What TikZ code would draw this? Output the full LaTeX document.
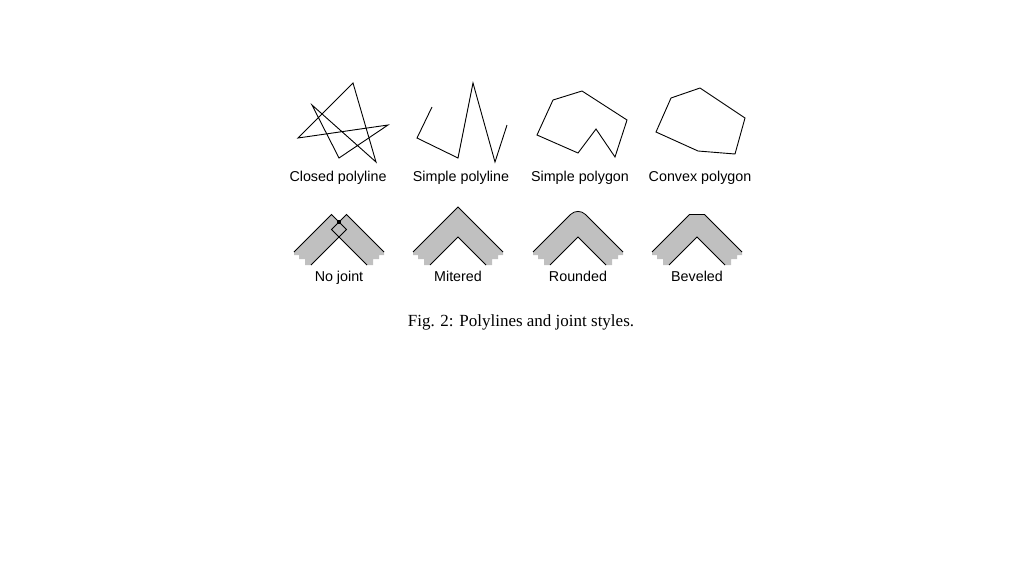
\documentclass[tikz,border=0pt]{standalone}
\usepackage{fontspec}
\setmainfont{Liberation Sans}
\newfontfamily\capfont{Liberation Serif}
\definecolor{band}{RGB}{192,192,192}
\tikzset{
  lbl/.style={font=\fontsize{14.3}{16}\selectfont, inner sep=0pt, anchor=base},
  poly/.style={draw=black, line width=0.9pt, line join=miter},
  edge/.style={draw=black, line width=0.8pt},
}
\def\lowerpart{--(45,252)--(45,255)--(40,255)--(40,259)--(34,259)--(34,265)--(28,265)--(0,237)--(-28,265)--(-34,265)--(-34,259)--(-40,259)--(-40,255)--(-45,255)--cycle}
\def\inner{\draw[edge] (-28,265)--(0,237)--(28,265);}
\begin{document}
\begin{tikzpicture}[x=1pt,y=-1pt]
\useasboundingbox (0,0) rectangle (1024,576);
\fill[white] (0,0) rectangle (1024,576);
% top row
\draw[poly] (298,138)--(353,83)--(376,162)--(312,105)--(339,158)--(388,125)--cycle;
\draw[poly] (432,107)--(417,138)--(458,158)--(473,83)--(495,162)--(507,125);
\draw[poly] (553,100)--(582,91)--(627,120)--(615,157)--(596,129)--(578,153)--(537,135)--cycle;
\draw[poly] (671,98)--(700,88)--(745,118)--(735,154)--(698,151)--(656,132)--cycle;
\node[lbl] (l1) at (338,181) {Closed polyline};
\node[lbl] (l2) at (461,181) {Simple polyline};
\node[lbl] (l3) at (580,181) {Simple polygon};
\node[lbl] (l4) at (700,181) {Convex polygon};
% No joint
\begin{scope}[xshift=339pt]
  \fill[band] (-45,252)--(-7.5,214.5)--(0,222)--(7.5,214.5)\lowerpart;
  \inner
  \draw[edge] (-45,252)--(-7.5,214.5)--(0,222)--(7.5,214.5)--(45,252);
  \draw[edge] (0,222)--(7.5,229.5)--(0,237)--(-7.5,229.5)--cycle;
  \fill[black] (-2,220) rectangle (2,224);
\end{scope}
% Mitered
\begin{scope}[xshift=458pt]
  \fill[band] (-45,252)--(0,207)\lowerpart;
  \inner
  \draw[edge] (-45,252)--(0,207)--(45,252);
\end{scope}
% Rounded
\begin{scope}[xshift=578pt]
  \fill[band] (-45,252)--(-7.5,214.5) arc[start angle=225,end angle=315,radius=10.6]\lowerpart;
  \inner
  \draw[edge] (-45,252)--(-7.5,214.5) arc[start angle=225,end angle=315,radius=10.6]--(45,252);
\end{scope}
% Beveled
\begin{scope}[xshift=697pt]
  \fill[band] (-45,252)--(-7.5,214.5)--(7.5,214.5)\lowerpart;
  \inner
  \draw[edge] (-45,252)--(-7.5,214.5)--(7.5,214.5)--(45,252);
\end{scope}
\node[lbl] (b1) at (339,281) {No joint};
\node[lbl] (b2) at (458,281) {Mitered};
\node[lbl] (b3) at (578,281) {Rounded};
\node[lbl] (b4) at (697,281) {Beveled};
\node[font=\capfont\fontsize{17}{19}\selectfont, inner sep=0pt] (cap) at (521,322) {Fig. 2: Polylines and joint styles.};
\end{tikzpicture}
\end{document}
